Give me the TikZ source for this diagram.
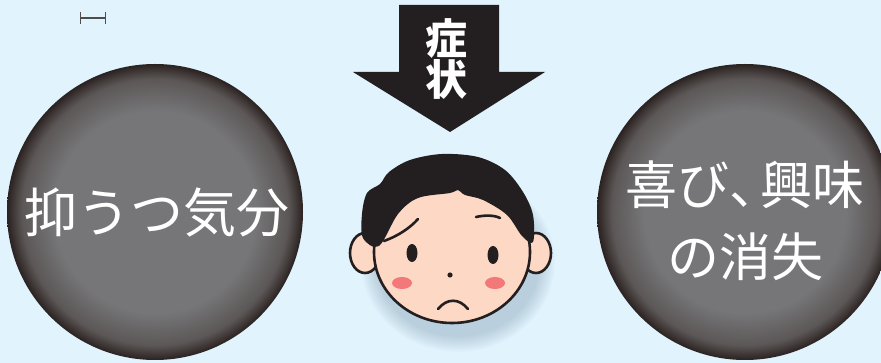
\documentclass[tikz,border=0pt]{standalone}
\usepackage{fontspec}
\usepackage{xcolor}
\usepackage{tikz}
\usetikzlibrary{positioning,arrows.meta}
\newfontfamily\jpfont{Noto Sans CJK JP}

\definecolor{skyback}{HTML}{E1F3FD}
\definecolor{ballmid}{HTML}{767678}
\definecolor{ballring}{HTML}{5C5757}
\definecolor{ballrim}{HTML}{2A2220}
\definecolor{inkblack}{HTML}{231F20}
\definecolor{skin}{HTML}{FDD8C5}
\definecolor{blush}{HTML}{F3787A}
\definecolor{faceshadow}{HTML}{7F9AAE}

% flat grey middle, dark rim
\pgfdeclareradialshading{ballshade}{\pgfpoint{0bp}{0bp}}{%
  color(0bp)=(ballmid); color(17bp)=(ballmid); color(22.5bp)=(ballring);
  color(25bp)=(ballrim); color(50bp)=(ballrim)}

\begin{document}
\begin{tikzpicture}[x=1pt,y=-1pt,
    every node/.style={font=\jpfont},
    ball/.style={circle,minimum size=296pt,inner sep=0pt,shading=ballshade},
    balltext/.style={text=white,align=center,font=\jpfont\fontsize{52}{72}\selectfont},
    outline/.style={draw=inkblack,line width=2.6pt}]
  \useasboundingbox (0,0) rectangle (881,363);
  \fill[skyback] (0,0) rectangle (881,363);

  % small scale mark, top left
  \coordinate (mark1) at (80,18);
  \coordinate (mark2) at (106,18);
  \draw[inkblack!80,line width=1.2pt,{Bar[width=12pt]}-{Bar[width=12pt]}] (mark1) -- (mark2);

  % the two grey balls
  \node[ball] (mood) at (155,212) {};
  \node[ball] (joy) at (745,212) {};
  \node[balltext,font=\jpfont\fontsize{53}{72}\selectfont] (moodlabel) at (157,213) {抑うつ気分};
  \node[balltext] (joylabel) at (745,221) {喜び、\kern-0.4em興味\\の消失};

  % big arrow pointing down
  \fill[inkblack] (399,5) -- (499,5) -- (499,72) -- (545,72) -- (450,132)
    -- (353,72) -- (399,72) -- cycle;
  \node[text=white,align=center,font=\jpfont\bfseries\fontsize{42}{38}\selectfont]
    (symptom) at (446,59) {症\\状};

  % soft shadow under the face
  \foreach \r in {1,...,12} {
    \pgfmathsetmacro\rx{80+1.4*\r}
    \pgfmathsetmacro\ry{73+1.4*\r}
    \fill[faceshadow,opacity=0.035] (458,262) ellipse [x radius=\rx, y radius=\ry];
  }

  % ears, then face
  \filldraw[fill=skin,outline] (365,253) ellipse [x radius=15, y radius=20];
  \filldraw[fill=skin,outline] (536,253) ellipse [x radius=15, y radius=20];
  \filldraw[fill=skin,outline] (452,252) ellipse [x radius=78, y radius=71];

  % hair
  \fill[inkblack] plot[smooth cycle,tension=0.55] coordinates {
    (379,246) (363,238) (362,214) (367,193) (380,184) (389,172) (410,160)
    (442,154) (478,157) (505,170) (523,192) (533,215) (533,242) (522,236)
    (507,215) (483,200) (465,195) (458,190) (450,193) (418,198) (398,214)};

  % brows, eyes, nose, mouth
  \draw[inkblack,line width=2.6pt,line cap=round]
    (384,241) .. controls (398,236) and (410,228) .. (418,219);
  \draw[inkblack,line width=2.6pt,line cap=round]
    (476,217) .. controls (485,215) and (494,215) .. (500,218);
  \fill[inkblack] (412,253) ellipse [x radius=5.5, y radius=9];
  \fill[inkblack] (493,255) ellipse [x radius=5.5, y radius=9];
  \fill[inkblack] (450,275) circle (2.6);
  \draw[inkblack,line width=2.6pt,line cap=round]
    (438,309) .. controls (447,298) and (459,298) .. (468,309);

  % cheeks
  \fill[blush] (402,283) ellipse [x radius=10, y radius=6];
  \fill[blush] (495,283) ellipse [x radius=10, y radius=6];
\end{tikzpicture}
\end{document}
